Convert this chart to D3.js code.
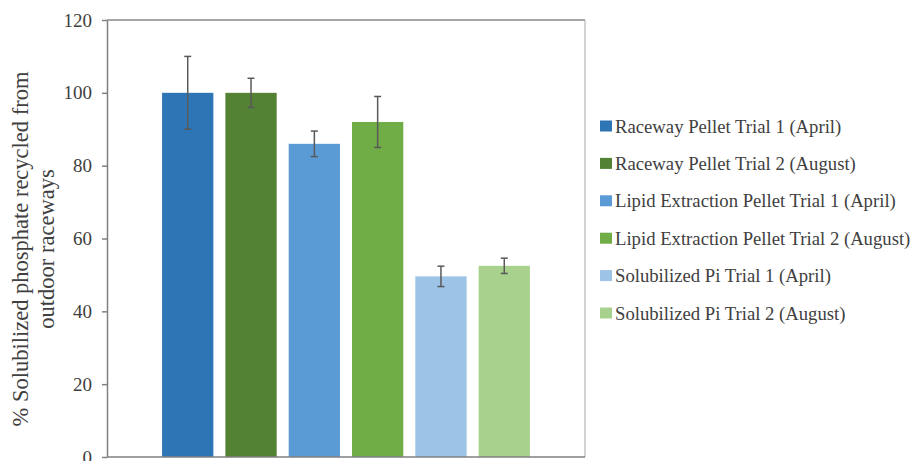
<!DOCTYPE html>
<html>
<head>
<meta charset="utf-8">
<script src="https://cdn.jsdelivr.net/npm/d3@7"></script>
<style>
  body { margin: 0; background: #fff; }
</style>
</head>
<body>
<svg width="913" height="461"></svg>
<script>
// series (one bar each)
const series = [
  "Raceway Pellet Trial 1 (April)",
  "Raceway Pellet Trial 2 (August)",
  "Lipid Extraction Pellet Trial 1 (April)",
  "Lipid Extraction Pellet Trial 2 (August)",
  "Solubilized Pi Trial 1 (April)",
  "Solubilized Pi Trial 2 (August)"
]
const values = [100, 100, 86, 92, 49.6, 52.5]
const errors = [10, 4, 3.5, 7, 2.8, 2.1]
const colors = ["#2e75b6", "#548235", "#5b9bd5", "#70ad47", "#9dc3e6", "#a9d18e"]
const yTicks = [0, 20, 40, 60, 80, 100, 120]

const font = "'Liberation Serif', 'Times New Roman', Times, serif"
const textColor = "#404040"

const svg = d3.select("svg")
const margin = { top: 20, left: 107, right: 328, bottom: 4 }
const width = +svg.attr("width")
const height = +svg.attr("height")
const innerWidth = width - margin.left - margin.right
const innerHeight = height - margin.top - margin.bottom

const g = svg.append("g")
  .attr("transform", `translate(${margin.left},${margin.top})`)

const xScale = d3.scaleBand()
  .domain(series)
  .range([0, innerWidth])
  .paddingInner(0.19)
  .paddingOuter(0.87)

const yScale = d3.scaleLinear()
  .domain([0, 120])
  .range([innerHeight, 0])

// plot frame
g.append("line").attr("x1", 0).attr("x2", innerWidth).attr("y1", 0).attr("y2", 0)
  .attr("stroke", "#a6a6a6").attr("stroke-width", 2)
g.append("line").attr("x1", innerWidth).attr("x2", innerWidth).attr("y1", 0).attr("y2", innerHeight)
  .attr("stroke", "#a6a6a6").attr("stroke-width", 1)

// bars
g.selectAll("rect.bar")
  .data(series)
  .enter().append("rect")
  .attr("class", "bar")
  .attr("x", d => xScale(d))
  .attr("y", (d, i) => yScale(values[i]))
  .attr("width", xScale.bandwidth())
  .attr("height", (d, i) => innerHeight - yScale(values[i]))
  .attr("fill", (d, i) => colors[i])

// error bars
const errG = g.append("g")
  .attr("stroke", "#595959")
  .attr("stroke-width", 1.5)
series.forEach((s, i) => {
  const cx = xScale(s) + xScale.bandwidth() / 2
  const top = yScale(values[i] + errors[i])
  const bot = yScale(values[i] - errors[i])
  errG.append("line").attr("x1", cx).attr("x2", cx).attr("y1", top).attr("y2", bot)
  errG.append("line").attr("x1", cx - 3.5).attr("x2", cx + 3.5).attr("y1", top).attr("y2", top)
  errG.append("line").attr("x1", cx - 3.5).attr("x2", cx + 3.5).attr("y1", bot).attr("y2", bot)
})

// axes
const yAxis = d3.axisLeft(yScale)
  .tickValues(yTicks)
  .tickSize(5)
  .tickPadding(10)
  .tickSizeOuter(0)

const yAxisG = g.append("g").call(yAxis)
  .attr("font-family", font)
yAxisG.selectAll("text")
  .attr("font-size", "19px")
  .attr("fill", textColor)
yAxisG.selectAll("line, path").attr("stroke", "#808080").attr("stroke-width", 1.5)

g.append("line").attr("x1", 0).attr("x2", innerWidth).attr("y1", innerHeight).attr("y2", innerHeight)
  .attr("stroke", "#808080").attr("stroke-width", 1.5)

// y axis title
const title = svg.append("text")
  .attr("transform", `translate(20,249) rotate(-90)`)
  .attr("text-anchor", "middle")
  .attr("font-family", font)
  .attr("font-size", "22.5px")
  .attr("fill", textColor)
title.append("tspan").attr("x", 0).attr("dy", "0.35em").text("% Solubilized phosphate recycled from")
title.append("tspan").attr("x", 0).attr("dy", 26).text("outdoor raceways")

// legend
const legend = svg.append("g").attr("transform", "translate(600,126)")
const item = legend.selectAll("g")
  .data(series)
  .enter().append("g")
  .attr("transform", (d, i) => `translate(0,${i * 37.4})`)
item.append("rect")
  .attr("x", 0).attr("y", -5.5)
  .attr("width", 12).attr("height", 11)
  .attr("fill", (d, i) => colors[i])
item.append("text")
  .attr("x", 15).attr("dy", "0.35em")
  .attr("font-family", font)
  .attr("font-size", "18.7px")
  .attr("fill", textColor)
  .text(d => d)
</script>
</body>
</html>
